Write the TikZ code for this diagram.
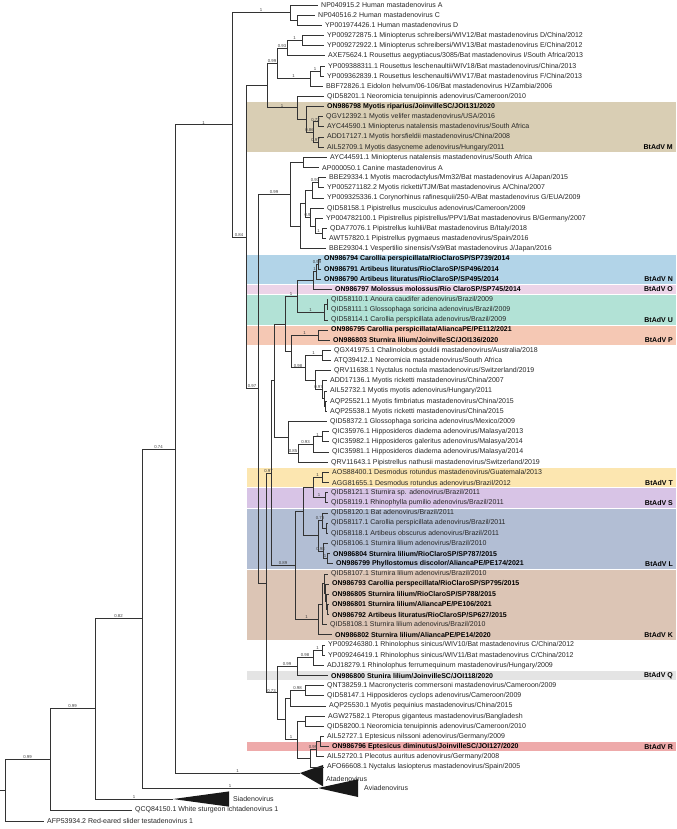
\documentclass[tikz,border=0pt]{standalone}
\usepackage{fontspec}
\setmainfont{Liberation Sans}
\usetikzlibrary{positioning,calc}

\definecolor{bandM}{RGB}{217,206,180}
\definecolor{bandN}{RGB}{178,212,232}
\definecolor{bandO}{RGB}{236,212,232}
\definecolor{bandU}{RGB}{178,226,214}
\definecolor{bandP}{RGB}{245,200,180}
\definecolor{bandT}{RGB}{252,230,176}
\definecolor{bandS}{RGB}{216,196,230}
\definecolor{bandL}{RGB}{178,190,212}
\definecolor{bandK}{RGB}{220,197,181}
\definecolor{bandQ}{RGB}{228,228,228}
\definecolor{bandR}{RGB}{238,170,170}

\tikzset{
  branch/.style={draw=black!80, line width=0.9pt},
  leaf/.style={anchor=west, inner xsep=3pt, inner ysep=0pt, font=\fontsize{7}{8}\selectfont, text=black!85},
  newleaf/.style={leaf, font=\fontsize{7}{8}\selectfont\bfseries, text=black},
  grouptag/.style={anchor=east, inner sep=0pt, font=\fontsize{7}{8}\selectfont\bfseries},
  supp/.style={anchor=south, inner sep=0.6pt, font=\fontsize{4.3}{5}\selectfont, text=black!75},
  band/.style={draw=white, line width=0.7pt},
  collapsed/.style={fill=black!90},
}
% support value centred on the branch from #1 to #2
\newcommand\bsupp[3]{\node[supp] (s-#2) at ($(#1 |- #2)!0.5!(#2)$) {#3};}

\begin{document}
\begin{tikzpicture}[x=1pt, y=-10.16pt]
\useasboundingbox (0,0.508) rectangle (676,82.1);

% clade bands
\fill[bandM, band] (246,10.5) rectangle (676,15.5);
\fill[bandN, band] (246,25.5) rectangle (676,28.5);
\fill[bandO, band] (246,28.5) rectangle (676,29.5);
\fill[bandU, band] (246,29.5) rectangle (676,32.5);
\fill[bandP, band] (246,32.5) rectangle (676,34.5);
\fill[bandT, band] (246,46.5) rectangle (676,48.5);
\fill[bandS, band] (246,48.5) rectangle (676,50.5);
\fill[bandL, band] (246,50.5) rectangle (676,56.5);
\fill[bandK, band] (246,56.5) rectangle (676,63.5);
\fill[bandQ, band] (246,66.5) rectangle (676,67.5);
\fill[bandR, band] (246,73.5) rectangle (676,74.5);

\node[grouptag] (tagM) at (673,15) {BtAdV M};
\node[grouptag] (tagN) at (673,28) {BtAdV N};
\node[grouptag] (tagO) at (673,29) {BtAdV O};
\node[grouptag] (tagU) at (673,32) {BtAdV U};
\node[grouptag] (tagP) at (673,34) {BtAdV P};
\node[grouptag] (tagT) at (673,48) {BtAdV T};
\node[grouptag] (tagS) at (673,50) {BtAdV S};
\node[grouptag] (tagL) at (673,56) {BtAdV L};
\node[grouptag] (tagK) at (673,63) {BtAdV K};
\node[grouptag] (tagQ) at (673,67) {BtAdV Q};
\node[grouptag] (tagR) at (673,74) {BtAdV R};

% tips
\node[leaf] (l1) at (318,1) {NP040915.2 Human mastadenovirus A};
\node[leaf] (l2) at (315,2) {NP040516.2 Human mastadenovirus C};
\node[leaf] (l3) at (322,3) {YP001974426.1 Human mastadenovirus D};
\node[leaf] (l4) at (324,4) {YP009272875.1 Miniopterus schreibersi/WIV12/Bat mastadenovirus D/China/2012};
\node[leaf] (l5) at (324,5) {YP009272922.1 Miniopterus schreibersi/WIV13/Bat mastadenovirus E/China/2012};
\node[leaf] (l6) at (325,6) {AXE75624.1 Rousettus aegyptiacus/3085/Bat mastadenovirus I/South Africa/2013};
\node[leaf] (l7) at (325,7) {YP009388311.1 Rousettus leschenaultii/WIV18/Bat mastadenovirus/China/2013};
\node[leaf] (l8) at (324,8) {YP009362839.1 Rousettus leschenaultii/WIV17/Bat mastadenovirus F/China/2013};
\node[leaf] (l9) at (323,9) {BBF72826.1 Eidolon helvum/06-106/Bat mastadenovirus H/Zambia/2006};
\node[leaf] (l10) at (324,10) {QID58201.1 Neoromicia tenuipinnis adenovirus/Cameroon/2010};
\node[newleaf] (l11) at (324,11) {ON986798 Myotis riparius/JoinvilleSC/JOI131/2020};
\node[leaf] (l12) at (323,12) {QGV12392.1 Myotis velifer mastadenovirus/USA/2016};
\node[leaf] (l13) at (324,13) {AYC44590.1 Miniopterus natalensis mastadenovirus/South Africa};
\node[leaf] (l14) at (324,14) {ADD17127.1 Myotis horsfieldii mastadenovirus/China/2008};
\node[leaf] (l15) at (324,15) {AIL52709.1 Myotis dasycneme adenovirus/Hungary/2011};
\node[leaf] (l16) at (327,16) {AYC44591.1 Miniopterus natalensis mastadenovirus/South Africa};
\node[leaf] (l17) at (319,17) {AP000050.1 Canine mastadenovirus A};
\node[leaf] (l18) at (326,18) {BBE29334.1 Myotis macrodactylus/Mm32/Bat mastadenovirus A/Japan/2015};
\node[leaf] (l19) at (324,19) {YP005271182.2 Myotis ricketti/TJM/Bat mastadenovirus A/China/2007};
\node[leaf] (l20) at (324,20) {YP009325336.1 Corynorhinus rafinesquii/250-A/Bat mastadenovirus G/EUA/2009};
\node[leaf] (l21) at (324,21) {QID58158.1 Pipistrellus musciculus adenovirus/Cameroon/2009};
\node[leaf] (l22) at (323,22) {YP004782100.1 Pipistrellus pipistrellus/PPV1/Bat mastadenovirus B/Germany/2007};
\node[leaf] (l23) at (327,23) {QDA77076.1 Pipistrellus kuhlii/Bat mastadenovirus B/Italy/2018};
\node[leaf] (l24) at (326,24) {AWT57820.1 Pipistrellus pygmaeus mastadenovirus/Spain/2016};
\node[leaf] (l25) at (326,25) {BBE29304.1 Vespertilio sinensis/Vs9/Bat mastadenovirus J/Japan/2016};
\node[newleaf] (l26) at (321,26) {ON986794 Carollia perspicillata/RioClaroSP/SP739/2014};
\node[newleaf] (l27) at (321,27) {ON986791 Artibeus lituratus/RioClaroSP/SP496/2014};
\node[newleaf] (l28) at (321,28) {ON986790 Artibeus lituratus/RioClaroSP/SP495/2014};
\node[newleaf] (l29) at (332,29) {ON986797 Molossus molossus/Rio ClaroSP/SP745/2014};
\node[leaf] (l30) at (328,30) {QID58110.1 Anoura caudifer adenovirus/Brazil/2009};
\node[leaf] (l31) at (328,31) {QID58111.1 Glossophaga soricina adenovirus/Brazil/2009};
\node[leaf] (l32) at (328,32) {QID58114.1 Carollia perspicillata adenovirus/Brazil/2009};
\node[newleaf] (l33) at (328,33) {ON986795 Carollia perspicillata/AliancaPE/PE112/2021};
\node[newleaf] (l34) at (330,34) {ON986803 Sturnira lilium/JoinvilleSC/JOI136/2020};
\node[leaf] (l35) at (331,35) {QGX41975.1 Chalinolobus gouldii mastadenovirus/Australia/2018};
\node[leaf] (l36) at (331,36) {ATQ39412.1 Neoromicia mastadenovirus/South Africa};
\node[leaf] (l37) at (331,37) {QRV11638.1 Nyctalus noctula mastadenovirus/Switzerland/2019};
\node[leaf] (l38) at (327,38) {ADD17136.1 Myotis ricketti mastadenovirus/China/2007};
\node[leaf] (l39) at (327,39) {AIL52732.1 Myotis myotis adenovirus/Hungary/2011};
\node[leaf] (l40) at (327,40) {AQP25521.1 Myotis fimbriatus mastadenovirus/China/2015};
\node[leaf] (l41) at (327,41) {AQP25538.1 Myotis ricketti mastadenovirus/China/2015};
\node[leaf] (l42) at (327,42) {QID58372.1 Glossophaga soricina adenovirus/Mexico/2009};
\node[leaf] (l43) at (329,43) {QIC35976.1 Hipposideros diadema adenovirus/Malasya/2013};
\node[leaf] (l44) at (329,44) {QIC35982.1 Hipposideros galeritus adenovirus/Malasya/2014};
\node[leaf] (l45) at (329,45) {QIC35981.1 Hipposideros diadema adenovirus/Malasya/2014};
\node[leaf] (l46) at (328,46) {QRV11643.1 Pipistrellus nathusii mastadenovirus/Switzerland/2019};
\node[leaf] (l47) at (329,47) {AOS88400.1 Desmodus rotundus mastadenovirus/Guatemala/2013};
\node[leaf] (l48) at (329,48) {AGG81655.1 Desmodus rotundus adenovirus/Brazil/2012};
\node[leaf] (l49) at (328,49) {QID58121.1 Sturnira sp. adenovirus/Brazil/2011};
\node[leaf] (l50) at (328,50) {QID58119.1 Rhinophylla pumilio adenovirus/Brazil/2011};
\node[leaf] (l51) at (328,51) {QID58120.1 Bat adenovirus/Brazil/2011};
\node[leaf] (l52) at (328,52) {QID58117.1 Carollia perspicillata adenovirus/Brazil/2011};
\node[leaf] (l53) at (328,53) {QID58118.1 Artibeus obscurus adenovirus/Brazil/2011};
\node[leaf] (l54) at (328,54) {QID58106.1 Sturnira lilium adenovirus/Brazil/2010};
\node[newleaf] (l55) at (330,55) {ON986804 Sturnira lilium/RioClaroSP/SP787/2015};
\node[newleaf] (l56) at (333,56) {ON986799 Phyllostomus discolor/AliancaPE/PE174/2021};
\node[leaf] (l57) at (328,57) {QID58107.1 Sturnira lilium adenovirus/Brazil/2010};
\node[newleaf] (l58) at (329,58) {ON986793 Carollia perspecillata/RioClaroSP/SP795/2015};
\node[newleaf] (l59) at (329,59) {ON986805 Sturnira lilium/RioClaroSP/SP788/2015};
\node[newleaf] (l60) at (329,60) {ON986801 Sturnira lilium/AliancaPE/PE106/2021};
\node[newleaf] (l61) at (329,61) {ON986792 Artibeus lituratus/RioClaroSP/SP627/2015};
\node[leaf] (l62) at (327,62) {QID58108.1 Sturnira lilium adenovirus/Brazil/2010};
\node[newleaf] (l63) at (332,63) {ON986802 Sturnira lilium/AliancaPE/PE14/2020};
\node[leaf] (l64) at (325,64) {YP009246380.1 Rhinolophus sinicus/WIV10/Bat mastadenovirus C/China/2012};
\node[leaf] (l65) at (325,65) {YP009246419.1 Rhinolophus sinicus/WIV11/Bat mastadenovirus C/China/2012};
\node[leaf] (l66) at (324,66) {ADJ18279.1 Rhinolophus ferrumequinum mastadenovirus/Hungary/2009};
\node[newleaf] (l67) at (328,67) {ON986800 Stunira lilium/JoinvilleSC/JOI118/2020};
\node[leaf] (l68) at (324,68) {QNT38259.1 Macronycteris commersoni mastadenovirus/Cameroon/2009};
\node[leaf] (l69) at (324,69) {QID58147.1 Hipposideros cyclops adenovirus/Cameroon/2009};
\node[leaf] (l70) at (326,70) {AQP25530.1 Myotis pequinius mastadenovirus/China/2015};
\node[leaf] (l71) at (325,71) {AGW27582.1 Pteropus giganteus mastadenovirus/Bangladesh};
\node[leaf] (l72) at (324,72) {QID58200.1 Neoromicia tenuipinnis adenovirus/Cameroon/2010};
\node[leaf] (l73) at (324,73) {AIL52727.1 Eptesicus nilssoni adenovirus/Germany/2009};
\node[newleaf] (l74) at (329,74) {ON986796 Eptesicus diminutus/JoinvilleSC/JOI127/2020};
\node[leaf] (l75) at (324,75) {AIL52720.1 Plecotus auritus adenovirus/Germany/2008};
\node[leaf] (l76) at (324,76) {AFO66608.1 Nyctalus lasiopterus mastadenovirus/Spain/2005};
\node[leaf] (l80) at (132,80.24) {QCQ84150.1 White sturgeon ichtadenovirus 1};
\node[leaf] (l81) at (44,81.32) {AFP53934.2 Red-eared slider testadenovirus 1};

% collapsed genera
\coordinate (ata) at (300,76.59);
\coordinate (ata1) at (323,75.8);
\coordinate (ata2) at (323,77.9);
\fill[collapsed] (ata) -- (ata1) -- (ata2) -- cycle;
\node[leaf] (atalbl) at (323,77.2) {Atadenovirus};
\coordinate (avi) at (318,78.07);
\coordinate (avi1) at (358,77.2);
\coordinate (avi2) at (358,78.95);
\fill[collapsed] (avi) -- (avi1) -- (avi2) -- cycle;
\node[leaf] (avilbl) at (361,78.07) {Aviadenovirus};
\coordinate (sia) at (173,79.15);
\coordinate (sia1) at (229,78.4);
\coordinate (sia2) at (229,79.9);
\fill[collapsed] (sia) -- (sia1) -- (sia2) -- cycle;
\node[leaf] (sialbl) at (230,79.15) {Siadenovirus};

% internal nodes
\coordinate (hcd) at (297,2.5);
\coordinate (hum) at (290,1.75);
\coordinate (n302) at (302,4.5);
\coordinate (n287) at (287,5.25);
\coordinate (n320) at (320,7.5);
\coordinate (n310) at (310,8.25);
\coordinate (n277) at (277,6.75);
\coordinate (m72) at (318,12.5);
\coordinate (m97) at (318,14.5);
\coordinate (m86) at (313,13.5);
\coordinate (mm) at (306,12.25);
\coordinate (n297) at (297,11.125);
\coordinate (n267) at (267,8.94);
\coordinate (mc) at (303,16.5);
\coordinate (a1) at (318,18.5);
\coordinate (a2) at (312,19.25);
\coordinate (p3) at (322,23.5);
\coordinate (p2) at (315,22.75);
\coordinate (p1) at (310,21.875);
\coordinate (z) at (305,20.56);
\coordinate (x300) at (300,22.78);
\coordinate (n290) at (290,19.64);
\coordinate (nn1) at (318,26.5);
\coordinate (nn) at (316,27.25);
\coordinate (no) at (313,28.125);
\coordinate (u1) at (327,30.5);
\coordinate (u) at (324,31.25);
\coordinate (nou) at (297,29.69);
\coordinate (bp) at (318,33.5);
\coordinate (ch) at (322,35.5);
\coordinate (my3) at (325,40.5);
\coordinate (my2) at (324,39.75);
\coordinate (my) at (322,38.875);
\coordinate (nm) at (315,37.94);
\coordinate (chnm) at (305,36.72);
\coordinate (pc) at (291,35.11);
\coordinate (q1) at (285,32.4);
\coordinate (hip1) at (322,43.5);
\coordinate (hip) at (313,44.25);
\coordinate (hipp) at (298,45.125);
\coordinate (g42) at (288,43.56);
\coordinate (n273) at (274,37.98);
\coordinate (bt) at (322,47.5);
\coordinate (bs) at (325,49.5);
\coordinate (ts) at (313,48.5);
\coordinate (la) at (326,52.5);
\coordinate (lb) at (322,51.75);
\coordinate (lc) at (327,55.5);
\coordinate (ld) at (323,54.75);
\coordinate (bl) at (318,53.25);
\coordinate (tsl) at (303,50.875);
\coordinate (k5) at (327,60.5);
\coordinate (k4) at (326,59.75);
\coordinate (k3) at (325,58.875);
\coordinate (k2) at (324,57.94);
\coordinate (k1) at (322,59.97);
\coordinate (bk) at (318,61.48);
\coordinate (tslk) at (295,56.18);
\coordinate (w) at (271,47.08);
\coordinate (rh1) at (322,64.5);
\coordinate (rh) at (313,65.25);
\coordinate (rhq) at (297,66.125);
\coordinate (mc2) at (305,68.5);
\coordinate (mca) at (290,69.25);
\coordinate (pt) at (305,71.5);
\coordinate (e1) at (320,73.5);
\coordinate (e2) at (316,74.25);
\coordinate (e3) at (310,75.125);
\coordinate (pte) at (297,73.31);
\coordinate (g5b) at (285,71.28);
\coordinate (g5) at (277,68.7);
\coordinate (y) at (266,57.89);
\coordinate (n258) at (258,38.77);
\coordinate (n246) at (246,23.85);
\coordinate (mast) at (232,12.8);
\coordinate (dAta) at (175,44.7);
\coordinate (dAvi) at (142,61.38);
\coordinate (dSia) at (95,70.27);
\coordinate (dIch) at (50,75.25);
\coordinate (root) at (5,78.29);
\coordinate (stub) at (0,78.29);

% branches
\draw[branch] (stub) -- (root);
\draw[branch] (root) |- (dIch) (root) |- (l81.west);
\draw[branch] (dIch) |- (dSia) (dIch) |- (l80.west);
\draw[branch] (dSia) |- (dAvi) (dSia) |- (sia);
\draw[branch] (dAvi) |- (dAta) (dAvi) |- (avi);
\draw[branch] (dAta) |- (mast) (dAta) |- (ata);
\draw[branch] (mast) |- (hum) (mast) |- (n246);
\draw[branch] (hum) |- (l1.west) (hum) |- (hcd) (hcd) |- (l2.west) (hcd) |- (l3.west);
\draw[branch] (n246) |- (n267) (n246) |- (n258);
\draw[branch] (n267) |- (n277) (n267) |- (n297);
\draw[branch] (n277) |- (n287) (n277) |- (n310);
\draw[branch] (n287) |- (n302) (n287) |- (l6.west) (n302) |- (l4.west) (n302) |- (l5.west);
\draw[branch] (n310) |- (n320) (n310) |- (l9.west) (n320) |- (l7.west) (n320) |- (l8.west);
\draw[branch] (n297) |- (l10.west) (n297) |- (mm);
\draw[branch] (mm) |- (l11.west) (mm) |- (m86) (m86) |- (m72) (m86) |- (m97);
\draw[branch] (m72) |- (l12.west) (m72) |- (l13.west) (m97) |- (l14.west) (m97) |- (l15.west);
\draw[branch] (n258) |- (n290) (n258) |- (y);
\draw[branch] (n290) |- (mc) (n290) |- (x300) (mc) |- (l16.west) (mc) |- (l17.west);
\draw[branch] (x300) |- (z) (x300) |- (l25.west) (z) |- (a2) (z) |- (p1);
\draw[branch] (a2) |- (a1) (a2) |- (l20.west) (a1) |- (l18.west) (a1) |- (l19.west);
\draw[branch] (p1) |- (l21.west) (p1) |- (p2) (p2) |- (l22.west) (p2) |- (p3);
\draw[branch] (p3) |- (l23.west) (p3) |- (l24.west);
\draw[branch] (y) |- (w) (y) |- (g5);
\draw[branch] (w) |- (n273) (w) |- (tslk);
\draw[branch] (n273) |- (q1) (n273) |- (g42);
\draw[branch] (q1) |- (nou) (q1) |- (pc);
\draw[branch] (nou) |- (no) (nou) |- (u) (no) |- (nn) (no) |- (l29.west);
\draw[branch] (nn) |- (nn1) (nn) |- (l28.west) (nn1) |- (l26.west) (nn1) |- (l27.west);
\draw[branch] (u) |- (u1) (u) |- (l32.west) (u1) |- (l30.west) (u1) |- (l31.west);
\draw[branch] (pc) |- (bp) (pc) |- (chnm) (bp) |- (l33.west) (bp) |- (l34.west);
\draw[branch] (chnm) |- (ch) (chnm) |- (nm) (ch) |- (l35.west) (ch) |- (l36.west);
\draw[branch] (nm) |- (l37.west) (nm) |- (my) (my) |- (l38.west) (my) |- (my2);
\draw[branch] (my2) |- (l39.west) (my2) |- (my3) (my3) |- (l40.west) (my3) |- (l41.west);
\draw[branch] (g42) |- (l42.west) (g42) |- (hipp) (hipp) |- (hip) (hipp) |- (l46.west);
\draw[branch] (hip) |- (hip1) (hip) |- (l45.west) (hip1) |- (l43.west) (hip1) |- (l44.west);
\draw[branch] (tslk) |- (tsl) (tslk) |- (bk) (tsl) |- (ts) (tsl) |- (bl);
\draw[branch] (ts) |- (bt) (ts) |- (bs) (bt) |- (l47.west) (bt) |- (l48.west) (bs) |- (l49.west) (bs) |- (l50.west);
\draw[branch] (bl) |- (lb) (bl) |- (ld) (lb) |- (l51.west) (lb) |- (la) (la) |- (l52.west) (la) |- (l53.west);
\draw[branch] (ld) |- (l54.west) (ld) |- (lc) (lc) |- (l55.west) (lc) |- (l56.west);
\draw[branch] (bk) |- (k1) (bk) |- (l63.west) (k1) |- (k2) (k1) |- (l62.west);
\draw[branch] (k2) |- (l57.west) (k2) |- (k3) (k3) |- (l58.west) (k3) |- (k4);
\draw[branch] (k4) |- (l59.west) (k4) |- (k5) (k5) |- (l60.west) (k5) |- (l61.west);
\draw[branch] (g5) |- (rhq) (g5) |- (g5b);
\draw[branch] (rhq) |- (rh) (rhq) |- (l67.west) (rh) |- (rh1) (rh) |- (l66.west);
\draw[branch] (rh1) |- (l64.west) (rh1) |- (l65.west);
\draw[branch] (g5b) |- (mca) (g5b) |- (pte) (mca) |- (mc2) (mca) |- (l70.west);
\draw[branch] (mc2) |- (l68.west) (mc2) |- (l69.west);
\draw[branch] (pte) |- (pt) (pte) |- (e3) (pt) |- (l71.west) (pt) |- (l72.west);
\draw[branch] (e3) |- (e2) (e3) |- (l76.west) (e2) |- (e1) (e2) |- (l75.west);
\draw[branch] (e1) |- (l73.west) (e1) |- (l74.west);

% support values
\bsupp{dAta}{mast}{1}
\bsupp{mast}{hum}{1}
\bsupp{n287}{n302}{1}
\bsupp{n277}{n287}{0.93}
\bsupp{n267}{n277}{0.99}
\bsupp{n310}{n320}{1}
\bsupp{n277}{n310}{1}
\bsupp{n267}{n297}{1}
\bsupp{m86}{m72}{0.72}
\bsupp{mm}{m86}{0.86}
\bsupp{m86}{m97}{0.97}
\bsupp{mast}{n246}{0.84}
\bsupp{n258}{n290}{0.99}
\bsupp{a2}{a1}{0.97}
\bsupp{z}{p1}{0.9}
\bsupp{p2}{p3}{1}
\bsupp{n246}{n258}{0.97}
\bsupp{nn}{nn1}{0.99}
\bsupp{no}{nn}{1}
\bsupp{q1}{nou}{1}
\bsupp{nou}{u}{1}
\bsupp{pc}{bp}{1}
\bsupp{chnm}{ch}{1}
\bsupp{pc}{chnm}{0.98}
\bsupp{nm}{my}{0.97}
\bsupp{hip}{hip1}{1}
\bsupp{hipp}{hip}{0.93}
\bsupp{g42}{hipp}{0.85}
\bsupp{y}{w}{0.97}
\bsupp{ts}{bt}{1}
\bsupp{ts}{bs}{1}
\bsupp{bl}{lb}{0.78}
\bsupp{bl}{ld}{0.98}
\bsupp{ld}{lc}{1}
\bsupp{w}{tslk}{0.89}
\bsupp{tslk}{bk}{1}
\bsupp{rh}{rh1}{1}
\bsupp{rhq}{rh}{0.98}
\bsupp{g5}{rhq}{0.99}
\bsupp{y}{g5}{0.73}
\bsupp{mca}{mc2}{0.98}
\bsupp{g5b}{pte}{1}
\bsupp{e3}{e2}{0.99}
\bsupp{dAta}{ata}{1}
\bsupp{dAvi}{avi}{1}
\bsupp{dSia}{sia}{1}
\bsupp{dAvi}{dAta}{0.74}
\bsupp{dSia}{dAvi}{0.82}
\bsupp{dIch}{dSia}{0.99}
\bsupp{root}{dIch}{0.99}
\end{tikzpicture}
\end{document}
